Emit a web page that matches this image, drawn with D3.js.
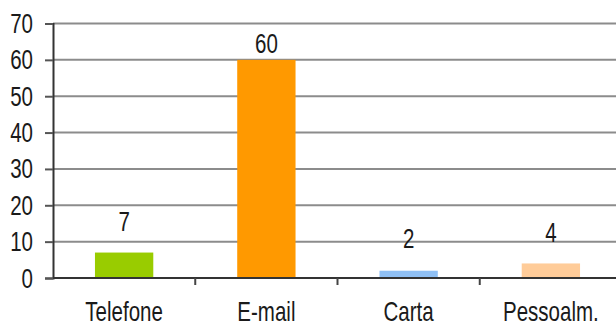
<!DOCTYPE html>
<html><head><meta charset="utf-8">
<script src="https://cdn.jsdelivr.net/npm/d3@7"></script>
<style>body{margin:0;background:#fff}svg{display:block}text{font-family:"Liberation Sans",Arial,sans-serif;fill:#1a1a1a}</style>
</head><body><svg id="c" width="616" height="326"></svg>
<script>
const categories = ["Telefone","E-mail","Carta","Pessoalm."];
const values = [7,60,2,4];
const colors = ["#99cc00","#ff9900","#8fc0f5","#ffcc99"];
const yTicks = [0,10,20,30,40,50,60,70];

const SX = 0.76, FS = 27;
const svg = d3.select("#c");
const x = d3.scaleBand().domain(categories).range([53,622]).paddingInner(0.59).paddingOuter(0.295);
const xb = d3.scaleBand().domain(categories).range([53,622]);
const y = d3.scaleLinear().domain([0,70]).range([278,23.5]);

function narrow(sel, fx, fy) {
  sel.attr("transform",(d,i)=>`translate(${fx(d,i)},${fy(d,i)}) scale(${SX},1)`)
     .attr("font-size",FS+"px");
}

// gridlines
svg.append("g").selectAll("line").data(yTicks.filter(d=>d>0)).join("line")
  .attr("x1",53).attr("x2",616).attr("y1",d=>y(d)).attr("y2",d=>y(d))
  .attr("stroke","#8c8c8c").attr("stroke-width",2);

// bars
svg.append("g").selectAll("rect").data(values).join("rect")
  .attr("x",(d,i)=>x(categories[i])).attr("width",x.bandwidth())
  .attr("y",d=>y(d)).attr("height",d=>y(0)-y(d)).attr("fill",(d,i)=>colors[i]);

// y axis
const ya = svg.append("g").attr("transform","translate(53,0)")
  .call(d3.axisLeft(y).tickValues(yTicks).tickSize(8).tickFormat(""));
ya.select(".domain").attr("stroke","#333").attr("stroke-width",2);
ya.selectAll(".tick line").attr("stroke","#555").attr("stroke-width",2);
svg.append("g").selectAll("text").data(yTicks).join("text")
  .call(narrow, ()=>33, d=>y(d)+9.5)
  .attr("text-anchor","end").text(d=>d);

// x axis line
svg.append("line").attr("x1",53).attr("x2",616).attr("y1",y(0)).attr("y2",y(0)).attr("stroke","#333").attr("stroke-width",2);
svg.append("g").selectAll("line").data(categories.slice(1)).join("line")
  .attr("x1",d=>xb(d)).attr("x2",d=>xb(d)).attr("y1",y(0)).attr("y2",y(0)+7)
  .attr("stroke","#444").attr("stroke-width",2);

// category labels
svg.append("g").selectAll("text").data(categories).join("text")
  .call(narrow, d=>xb(d)+xb.bandwidth()/2, ()=>321)
  .attr("text-anchor","middle").text(d=>d);

// value labels
svg.append("g").selectAll("text").data(values).join("text")
  .call(narrow, (d,i)=>x(categories[i])+x.bandwidth()/2, d=>Math.min(y(d)-(23-16*d/60), y(0)-29))
  .attr("text-anchor","middle").text(d=>d);
</script></body></html>
